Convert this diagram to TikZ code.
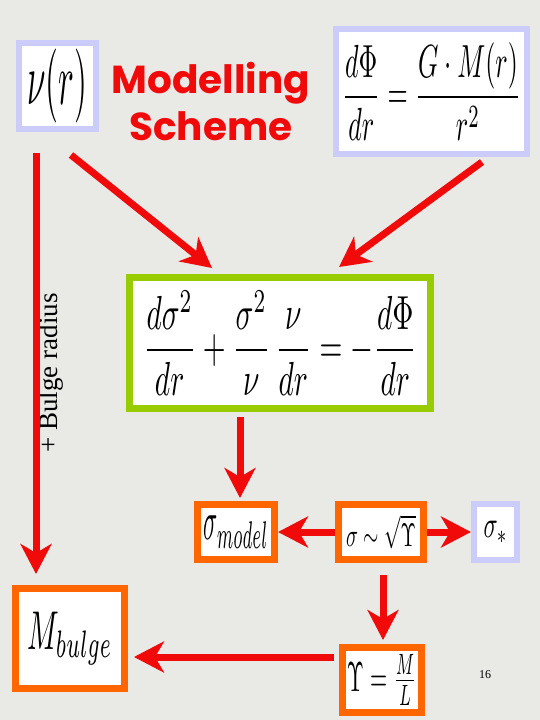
\documentclass[tikz,border=0pt]{standalone}
\usepackage{fontspec}
\usepackage{graphicx}
\usetikzlibrary{arrows.meta,calc}
\newfontfamily\comicfont{Poppins}
\newfontfamily\timesfont{Liberation Serif}
\definecolor{bg}{RGB}{233,233,230}
\definecolor{lavender}{RGB}{204,204,250}
\definecolor{leaf}{RGB}{153,204,0}
\definecolor{tangerine}{RGB}{255,102,0}
\definecolor{arrowred}{RGB}{240,10,10}
\tikzset{ bx/.style = { rectangle % box
        , draw
        , fill = white
        , line width = 7pt
        , inner sep = 0pt
        }
      , inbx/.style = { bx % given input
        , draw = lavender
        , line width = 6pt
        }
      , eqbx/.style = { bx % equation
        , draw = leaf
        }
      , outbx/.style = { bx % result
        , draw = tangerine
        }
      , arr/.style = { -{Stealth[length=30pt, width=31pt, inset=9pt]} % arrow
        , line width = 7pt
        , draw = arrowred
        }
}
\def\fit(#1,#2)#3{% scaled formula
\resizebox*{#1pt}{#2pt}{$\displaystyle#3$}%
}

\begin{document}
\begin{tikzpicture}[x=1pt, y=-1pt]
    \fill[bg] (0,0) rectangle (540,720);
    \useasboundingbox (0,0) rectangle (540,720);

    \node[inbx, minimum width=77pt, minimum height=86pt] (nu) at (57.5,86) {\fit(60,74){\nu(r)}};
    \node[inbx, minimum width=191pt, minimum height=125pt] (phi) at (431.5,91.5) {\fit(179,98){\frac{d\Phi}{dr}=\frac{G\cdot M(r)}{r^2}}};
    \node[font=\comicfont\bfseries\fontsize{39}{47}\selectfont, text=arrowred, align=center] (title) at (211,102) {Modelling\\Scheme};

    \node[eqbx, minimum width=301pt, minimum height=131pt] (jeans) at (280,343) {\fit(274,104){\frac{d\sigma^2}{dr}+\frac{\sigma^2}{\nu}\,\frac{\nu}{dr}=-\frac{d\Phi}{dr}}};

    \node[outbx, minimum width=77pt, minimum height=55pt] (model) at (236,532) {\fit(65,32){\sigma_{model}}};
    \node[outbx, minimum width=85pt, minimum height=55pt] (sig) at (381,532) {\fit(70,34){\sigma\sim\sqrt{\Upsilon}}};
    \node[inbx, minimum width=43pt, minimum height=56pt] (star) at (495.5,532) {\fit(24,22){\sigma_*}};
    \node[outbx, minimum width=109pt, minimum height=100pt] (bulge) at (70,638.5) {\fit(85,53){M_{bulge}}};
    \node[outbx, minimum width=79pt, minimum height=65pt] (ups) at (382,680) {\fit(70,51){\Upsilon=\textstyle\frac{M}{L}}};

    \node[font=\timesfont\fontsize{27}{30}\selectfont, rotate=90] (radius) at (51,373) {+ Bulge radius};
    \node[font=\timesfont\fontsize{12}{14}\selectfont] (page) at (485,675) {16};

    \draw[arr, shorten >=11pt] ($(nu.south west)+(20,21)$) coordinate (radtop) -- (radtop |- bulge.north);
    \draw[arr] ($(nu.south)+(13.5,23)$) -- ($(jeans.north west)+(86,-6)$);
    \draw[arr] ($(phi.south)+(50.5,5)$) -- ($(jeans.north)+(59,-7)$);
    \draw[arr] ($(jeans.south)+(-40,5)$) -- ($(model.north)+(4,-3)$);
    \draw[arr] (sig.west) -- (model.east);
    \draw[arr] (sig.east) -- (star.west);
    \draw[arr] ($(sig.south)+(2,12)$) -- ($(ups.north)+(1,-4)$);
    \draw[arr] ($(ups.west)+(-5,-23)$) -- ($(bulge.east)+(6,18.5)$);
\end{tikzpicture}
\end{document}
